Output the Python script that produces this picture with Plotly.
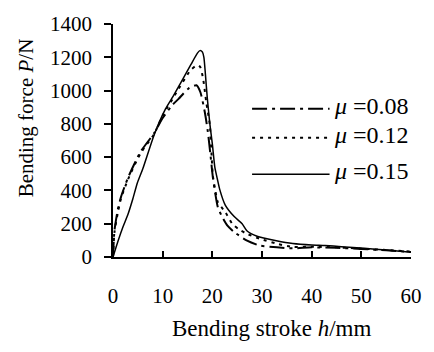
import plotly.graph_objects as go

# mu = 0.08 (dash-dot)
x_008 = [0, 0.3, 1, 1.6, 3, 5.5, 8.3, 10, 12, 13.2, 15.2, 16.8, 17.6, 18.5, 19.1, 19.6, 20.1, 20.6,
         21.1, 22, 23, 24.4, 27, 29.5, 33, 36.2, 40, 45, 50, 55, 60]
y_008 = [0, 160, 290, 360, 475, 630, 745, 835, 915, 950, 1012, 1032, 990, 868, 752, 620, 480, 380,
         300, 240, 190, 150, 98, 69, 58, 52, 58, 55, 48, 40, 30]

# mu = 0.12 (dotted)
x_012 = [0, 0.3, 1, 1.6, 3, 5.5, 8.3, 10, 12, 13.2, 15.6, 16.5, 17.1, 17.6, 18.2, 18.8, 19.5, 19.8,
         20.1, 20.6, 21.1, 22.6, 24, 25.4, 27, 29.5, 33, 36.2, 40, 45, 50, 55, 60]
y_012 = [0, 150, 270, 350, 465, 620, 740, 850, 950, 1010, 1122, 1145, 1152, 1140, 1060, 926, 793, 640,
         490, 400, 330, 270, 200, 165, 139, 110, 80, 60, 62, 58, 50, 42, 32]

# mu = 0.15 (solid)
x_015 = [0, 1, 2, 3, 4, 4.9, 6, 8.3, 10.6, 12, 13.2, 14, 15.7, 17, 17.5, 18, 18.3, 18.6, 19, 19.5,
         20, 20.5, 21, 21.5, 22.6, 24.4, 26, 27, 29, 32.9, 36.2, 40, 42.7, 46, 50.6, 55, 60]
y_015 = [0, 95, 180, 255, 350, 445, 530, 735, 891, 960, 1024, 1066, 1157, 1225, 1240, 1232, 1200, 1100, 950, 800,
         680, 540, 470, 405, 312, 243, 200, 156, 125, 98, 81, 72, 69, 62, 52, 42, 29]

legend_labels = ["<i>μ</i> =0.08", "<i>μ</i> =0.12", "<i>μ</i> =0.15"]
legend_y = [891, 717, 497]
legend_x = [28.0, 43.6]

x_ticks = [0, 10, 20, 30, 40, 50, 60]
y_ticks = [0, 200, 400, 600, 800, 1000, 1200, 1400]

FF = "Liberation Serif"
tfont = dict(family=FF, size=21, color="black")
styles = [
    dict(color="black", width=2, dash="15px,5px,3px,5px"),
    dict(color="black", width=2, dash="3px,5px"),
    dict(color="black", width=1.5, dash="solid"),
]

fig = go.Figure()
for xs, ys, st in zip([x_008, x_012, x_015], [y_008, y_012, y_015], styles):
    fig.add_trace(go.Scatter(x=xs, y=ys, mode="lines", line=dict(shape="spline", smoothing=0.6, **st),
                             showlegend=False, hoverinfo="skip"))

# legend samples drawn in data coordinates
for ly, st, lab in zip(legend_y, styles, legend_labels):
    fig.add_trace(go.Scatter(x=legend_x, y=[ly, ly], mode="lines", line=st, showlegend=False, hoverinfo="skip"))
    fig.add_annotation(x=legend_x[1], y=ly, xref="x", yref="y", text=lab, showarrow=False,
                       xanchor="left", yanchor="middle", xshift=2, yshift=3,
                       font=dict(family=FF, size=24, color="black"))

fig.add_annotation(x=0.531, y=-0.306, xref="paper", yref="paper",
                   text="Bending stroke <i>h</i>/mm", showarrow=False,
                   xanchor="center", yanchor="middle",
                   font=dict(family=FF, size=23, color="black"))
fig.add_annotation(x=-0.289, y=0.599, xref="paper", yref="paper",
                   text="Bending force <i>P</i>/N", showarrow=False, textangle=-90,
                   xanchor="center", yanchor="middle",
                   font=dict(family=FF, size=21, color="black"))

fig.update_layout(
    width=434, height=352,
    margin=dict(l=113, r=16, t=15, b=95),
    paper_bgcolor="white", plot_bgcolor="white",
    font=dict(family=FF, size=21, color="black"),
    showlegend=False,
)
fig.update_xaxes(range=[0, 60], tickvals=x_ticks, showgrid=False, zeroline=False,
                 showline=True, linecolor="black", linewidth=1.5, tickfont=tfont,
                 ticks="inside", ticklen=6, tickwidth=1.5, tickcolor="black",
                 ticklabelstandoff=19)
fig.update_yaxes(range=[0, 1400], tickvals=y_ticks, showgrid=False, zeroline=False,
                 showline=True, linecolor="black", linewidth=1.5, tickfont=tfont,
                 ticks="outside", ticklen=7, tickwidth=1.5, tickcolor="black",
                 ticklabelstandoff=8)

fig.write_html("out.html")
